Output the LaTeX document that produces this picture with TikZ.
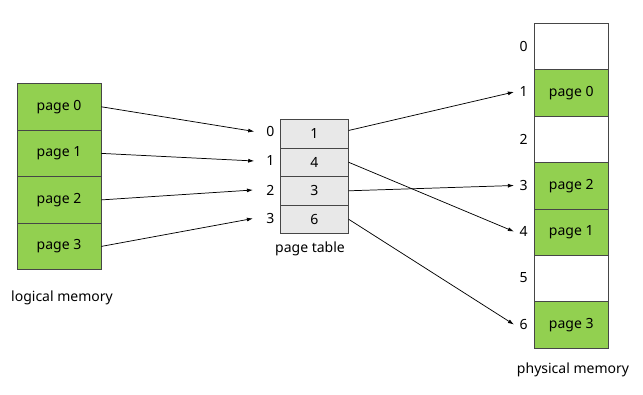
\documentclass[tikz,border=0pt]{standalone}
\usepackage{fontspec}
\setmainfont{Noto Sans}
\usepackage{tikz}
\usetikzlibrary{arrows.meta, positioning}
\definecolor{pagegreen}{RGB}{146,208,80}
\definecolor{frameline}{RGB}{70,70,70}
\definecolor{tablegray}{RGB}{232,232,232}
\tikzset{
  lpage/.style={rectangle, draw=frameline, fill=pagegreen, line width=0.6pt,
    minimum width=63pt, minimum height=34.9pt, inner sep=0pt, font=\fontsize{10.5}{12}\selectfont},
  entry/.style={rectangle, draw=frameline, fill=tablegray, line width=0.6pt,
    minimum width=50.7pt, minimum height=21.4pt, inner sep=0pt, font=\fontsize{10.5}{12}\selectfont},
  frame/.style={rectangle, draw=frameline, fill=white, line width=0.6pt,
    minimum width=55.5pt, minimum height=34.8pt, inner sep=0pt, font=\fontsize{10.5}{12}\selectfont},
  used/.style={frame, fill=pagegreen},
  idx/.style={inner sep=1pt, font=\fontsize{10.5}{12}\selectfont},
  caption/.style={font=\fontsize{10.5}{12}\selectfont},
  arrow/.style={-{Latex[length=4.5pt,width=3pt]}, line width=0.55pt, color=black}
}
\begin{document}
\begin{tikzpicture}[x=0.75pt, y=-0.75pt]
  \useasboundingbox (0,0) rectangle (643,395);

  % logical memory
  \node[lpage] (l0) at (59,106.8) {page 0};
  \node[lpage] (l1) at (59,153.4) {page 1};
  \node[lpage] (l2) at (59,199.9) {page 2};
  \node[lpage] (l3) at (59,246.4) {page 3};
  \node[caption] (lcap) at (62,298) {logical memory};

  % page table
  \node[entry] (t0) at (314.5,133.8) {1};
  \node[entry] (t1) at (314.5,162.3) {4};
  \node[entry] (t2) at (314.5,190.8) {3};
  \node[entry] (t3) at (314.5,219.3) {6};
  \node[idx] (i0) at (270.5,131.5) {0};
  \node[idx] (i1) at (270.5,161) {1};
  \node[idx] (i2) at (270.5,190) {2};
  \node[idx] (i3) at (270.5,218.5) {3};
  \node[caption] (tcap) at (310,249) {page table};

  % physical memory
  \node[frame] (p0) at (571.3,46.6) {};
  \node[used]  (p1) at (571.3,93) {page 0};
  \node[frame] (p2) at (571.3,139.4) {};
  \node[used]  (p3) at (571.3,185.8) {page 2};
  \node[used]  (p4) at (571.3,232.2) {page 1};
  \node[frame] (p5) at (571.3,278.6) {};
  \node[used]  (p6) at (571.3,325) {page 3};
  \node[idx] (f0) at (523.5,46) {0};
  \node[idx] (f1) at (523.5,92) {1};
  \node[idx] (f2) at (523.5,139) {2};
  \node[idx] (f3) at (523.5,185.5) {3};
  \node[idx] (f4) at (523.5,231.5) {4};
  \node[idx] (f5) at (523.5,278) {5};
  \node[idx] (f6) at (523.5,324.5) {6};
  \node[caption] (pcap) at (573,370) {physical memory};

  \draw[arrow] (l0.east) -- ([xshift=-8pt]i0.west);
  \draw[arrow] (l1.east) -- ([xshift=-8pt]i1.west);
  \draw[arrow] (l2.east) -- ([xshift=-9pt]i2.west);
  \draw[arrow] (l3.east) -- ([xshift=-9pt]i3.west);

  \draw[arrow] ([yshift=2.5pt]t0.east) -- ([xshift=-3pt]f1.west);
  \draw[arrow] (t1.east) -- ([xshift=-3pt]f4.west);
  \draw[arrow] (t2.east) -- ([xshift=-3pt]f3.west);
  \draw[arrow] (t3.east) -- ([xshift=-3pt]f6.west);
\end{tikzpicture}
\end{document}
